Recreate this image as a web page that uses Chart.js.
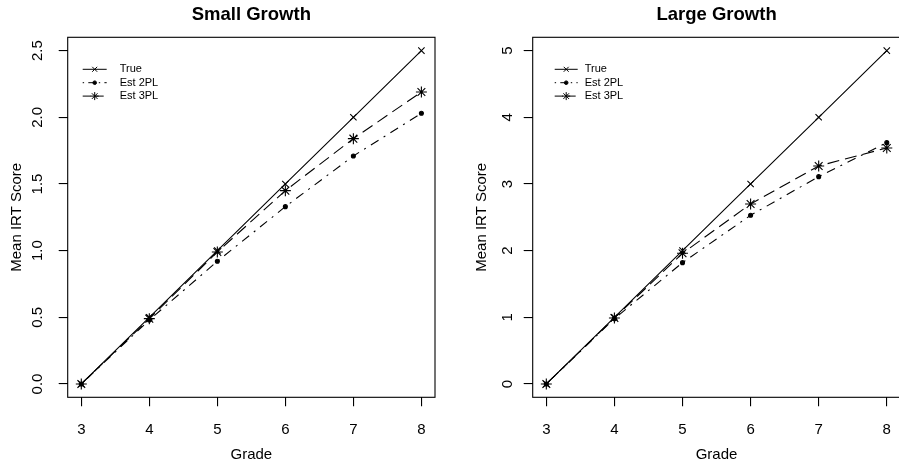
<!DOCTYPE html>
<html>
<head>
<meta charset="utf-8">
<script src="https://cdn.jsdelivr.net/npm/chart.js@4.4.0/dist/chart.umd.min.js"></script>
<style>
html, body { margin: 0; padding: 0; background: #fff; }
#wrap { position: relative; width: 899px; height: 464px; overflow: hidden; }
canvas { position: absolute; top: 0; }
</style>
</head>
<body>
<div id="wrap">
  <canvas id="small" width="450" height="464" style="left:0;width:450px;height:464px"></canvas>
  <canvas id="large" width="482" height="464" style="left:449px;width:482px;height:464px"></canvas>
</div>
<script>
// data
const grades = [3, 4, 5, 6, 7, 8];
const seriesNames = ['True', 'Est 2PL', 'Est 3PL'];

const smallTrue = [0, 0.5, 1.0, 1.5, 2.0, 2.5];
const small2PL  = [0, 0.48, 0.92, 1.33, 1.71, 2.03];
const small3PL  = [0, 0.49, 0.99, 1.45, 1.84, 2.19];
const smallTicks = [0, 0.5, 1.0, 1.5, 2.0, 2.5];

const largeTrue = [0, 1, 2, 3, 4, 5];
const large2PL  = [0, 0.98, 1.82, 2.53, 3.11, 3.62];
const large3PL  = [0, 0.99, 1.96, 2.70, 3.27, 3.54];
const largeTicks = [0, 1, 2, 3, 4, 5];

const FONT = '"Liberation Sans", Arial, Helvetica, sans-serif';

// R style: pch 4 / lty 1, pch 20 / lty 4, pch 8 / lty 2
const looks = [
    { pointStyle: 'crossRot', radius: 4.5, dash: [], legendRadius: 3.5 },
    { pointStyle: 'circle', radius: 2, dash: [2, 6, 9, 6], legendRadius: 1.8 },
    { pointStyle: 'star', radius: 5.5, dash: [12, 6], legendRadius: 4 }
];

const framePlugin = {
    id: 'rframe',
    afterDraw(chart, args, opts) {
        const ctx = chart.ctx;
        const a = chart.chartArea;
        ctx.save();
        ctx.strokeStyle = '#000';
        ctx.lineWidth = 1.1;
        ctx.strokeRect(a.left, a.top, a.right - a.left, a.bottom - a.top);

        const cx = (a.left + a.right) / 2;
        ctx.fillStyle = '#000';
        ctx.textAlign = 'center';
        ctx.textBaseline = 'middle';
        ctx.font = 'bold 18.5px ' + FONT;
        ctx.fillText(opts.title, cx, 15);
        ctx.font = '15px ' + FONT;
        ctx.fillText('Grade', cx, 455);
        ctx.save();
        ctx.translate(a.left - opts.yTitleGap, (a.top + a.bottom) / 2);
        ctx.rotate(-Math.PI / 2);
        ctx.fillText('Mean IRT Score', 0, 0);
        ctx.restore();

        // legend, no box
        ctx.font = '11px ' + FONT;
        ctx.textAlign = 'left';
        chart.data.datasets.forEach((ds, i) => {
            const y = 69.3 + i * 13.4;
            const lk = looks[i];
            ctx.setLineDash(lk.dash.map(d => d * 0.7));
            ctx.lineWidth = 1;
            ctx.beginPath();
            ctx.moveTo(a.left + opts.lx0, y);
            ctx.lineTo(a.left + opts.lx1, y);
            ctx.stroke();
            ctx.setLineDash([]);
            Chart.helpers.drawPoint(ctx, {
                pointStyle: lk.pointStyle, radius: lk.legendRadius, rotation: 0, borderWidth: 1
            }, a.left + (opts.lx0 + opts.lx1) / 2, y);
            ctx.fillText(ds.label, a.left + opts.tx, y);
        });
        ctx.restore();
    }
};

function makePanel(id, values, yTicks, yMin, yMax, fmt, frame) {
    const datasets = values.map((vals, i) => ({
        label: seriesNames[i],
        data: grades.map((g, k) => ({ x: g, y: vals[k] })),
        borderColor: '#000',
        backgroundColor: '#000',
        borderWidth: 1.1,
        borderDash: looks[i].dash,
        pointStyle: looks[i].pointStyle,
        pointRadius: looks[i].radius,
        pointBorderWidth: 1.1,
        pointBorderColor: '#000',
        pointBackgroundColor: '#000',
        tension: 0,
        fill: false
    }));

    return new Chart(document.getElementById(id), {
        type: 'line',
        data: { datasets: datasets },
        options: {
            responsive: false,
            animation: false,
            events: [],
            layout: { padding: { top: 37.3, right: frame.right, bottom: 0, left: 0 } },
            plugins: {
                legend: { display: false },
                tooltip: { enabled: false },
                rframe: frame
            },
            scales: {
                x: {
                    type: 'linear',
                    min: 2.8,
                    max: 8.2,
                    afterBuildTicks: s => { s.ticks = grades.map(v => ({ value: v })); },
                    afterFit: s => { s.height = 66.7; },
                    border: { display: false },
                    grid: { drawOnChartArea: false, drawTicks: true, tickLength: 9, color: '#000', lineWidth: 1.1 },
                    ticks: { color: '#000', padding: 14.5, font: { family: FONT, size: 15 } }
                },
                y: {
                    type: 'linear',
                    min: yMin,
                    max: yMax,
                    afterBuildTicks: s => { s.ticks = yTicks.map(v => ({ value: v })); },
                    afterFit: s => { s.width = frame.left; },
                    border: { display: false },
                    grid: { drawOnChartArea: false, drawTicks: true, tickLength: 9, color: '#000', lineWidth: 1.1 },
                    ticks: {
                        color: '#000',
                        minRotation: 90,
                        maxRotation: 90,
                        crossAlign: 'center',
                        padding: frame.yPad,
                        font: { family: FONT, size: 15 },
                        callback: v => fmt(v)
                    }
                }
            }
        },
        plugins: [framePlugin]
    });
}

makePanel('small', [smallTrue, small2PL, small3PL], smallTicks, -0.1, 2.6, v => v.toFixed(1),
    { title: 'Small Growth', left: 67.7, right: 15, yPad: 10, yTitleGap: 51, lx0: 15, lx1: 39, tx: 52 });

// right panel box runs just past the right edge of the picture
makePanel('large', [largeTrue, large2PL, large3PL], largeTicks, -0.2, 5.2, v => String(v),
    { title: 'Large Growth', left: 83.7, right: 30.6, yPad: 11.5, yTitleGap: 51, lx0: 22, lx1: 45, tx: 52 });
</script>
</body>
</html>
